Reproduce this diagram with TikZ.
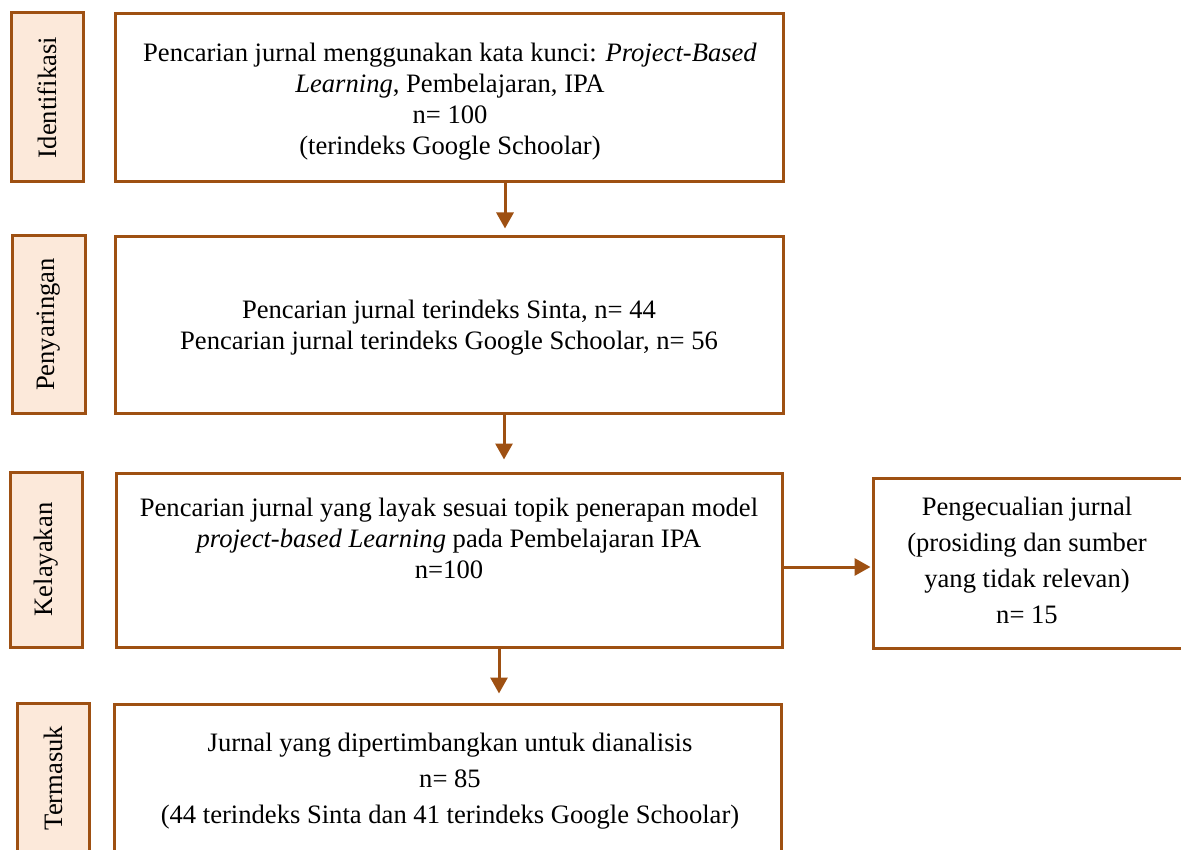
\documentclass[tikz,border=0pt]{standalone}
\usepackage{fontspec}
\setmainfont{Liberation Serif}
\usetikzlibrary{arrows.meta}
\definecolor{brn}{RGB}{158,80,18}
\definecolor{peach}{RGB}{252,233,218}
\begin{document}
\begin{tikzpicture}[x=1pt,y=-1pt,
  box/.style={draw=brn,line width=3pt,fill=white,inner sep=0pt},
  lbl/.style={draw=brn,line width=3pt,fill=peach,inner sep=0pt},
  txt/.style={align=center,font=\fontsize{26.6}{31}\selectfont,inner sep=0pt},
  txtw/.style={align=center,font=\fontsize{26.6}{36}\selectfont,inner sep=0pt},
  vtxt/.style={font=\fontsize{26.6}{30}\selectfont,inner sep=0pt,rotate=90},
  arr/.style={draw=brn,line width=3pt,-{Triangle[width=17pt,length=16pt]}}]
\useasboundingbox (0,0) rectangle (1181,850);
% stage labels
\node[lbl,minimum width=72pt,minimum height=169pt] (l1) at (47,97.5) {};
\node[vtxt] (l1t) at (l1.center) {Identifikasi};
\node[lbl,minimum width=73pt,minimum height=177pt] (l2) at (48.5,324.5) {};
\node[vtxt] (l2t) at (l2.center) {Penyaringan};
\node[lbl,minimum width=72pt,minimum height=175pt] (l3) at (46,559.5) {};
\node[vtxt] (l3t) at (l3.center) {Kelayakan};
\node[lbl,minimum width=72pt,minimum height=153pt] (l4) at (53,779.5) {};
\node[vtxt] (l4t) at (53,778) {Termasuk};
% boxes
\node[box,minimum width=668pt,minimum height=168pt] (b1) at (449,98) {};
\node[txt] (b1t) at (450,101.5) {Pencarian jurnal menggunakan kata kunci: \textit{Project-Based}\\ \textit{Learning}, Pembelajaran, IPA\\ n= 100\\ (terindeks Google Schoolar)};
\node[box,minimum width=668pt,minimum height=176pt] (b2) at (449,325) {};
\node[txt] (b2t) at (449,327.5) {Pencarian jurnal terindeks Sinta, n= 44\\ Pencarian jurnal terindeks Google Schoolar, n= 56};
\node[box,minimum width=666pt,minimum height=174pt] (b3) at (449,560) {};
\node[txt] (b3t) at (449,538) {Pencarian jurnal yang layak sesuai topik penerapan model\\ \textit{project-based Learning} pada Pembelajaran IPA\\ n=100};
\node[box,minimum width=317pt,minimum height=170pt] (b4) at (1031.5,563) {};
\node[txtw] (b4t) at (1027,560) {Pengecualian jurnal\\ (prosiding dan sumber\\ yang tidak relevan)\\ n= 15};
\node[box,minimum width=667pt,minimum height=152pt] (b5) at (447.5,780) {};
\node[txtw] (b5t) at (450,781) {Jurnal yang dipertimbangkan untuk dianalisis\\ n= 85\\ (44 terindeks Sinta dan 41 terindeks Google Schoolar)};
% connectors
\coordinate (x1) at (505,0);
\coordinate (x2) at (504,0);
\coordinate (x3) at (499,0);
\coordinate (y3) at (0,567);
\draw[arr,shorten >=7pt] (b1.south -| x1) -- (b2.north -| x1);
\draw[arr,shorten >=12pt] (b2.south -| x2) -- (b3.north -| x2);
\draw[arr,shorten >=9pt] (b3.south -| x3) -- (b5.north -| x3);
\draw[arr,shorten >=1pt] (b3.east |- y3) -- (b4.west |- y3);
\end{tikzpicture}
\end{document}
